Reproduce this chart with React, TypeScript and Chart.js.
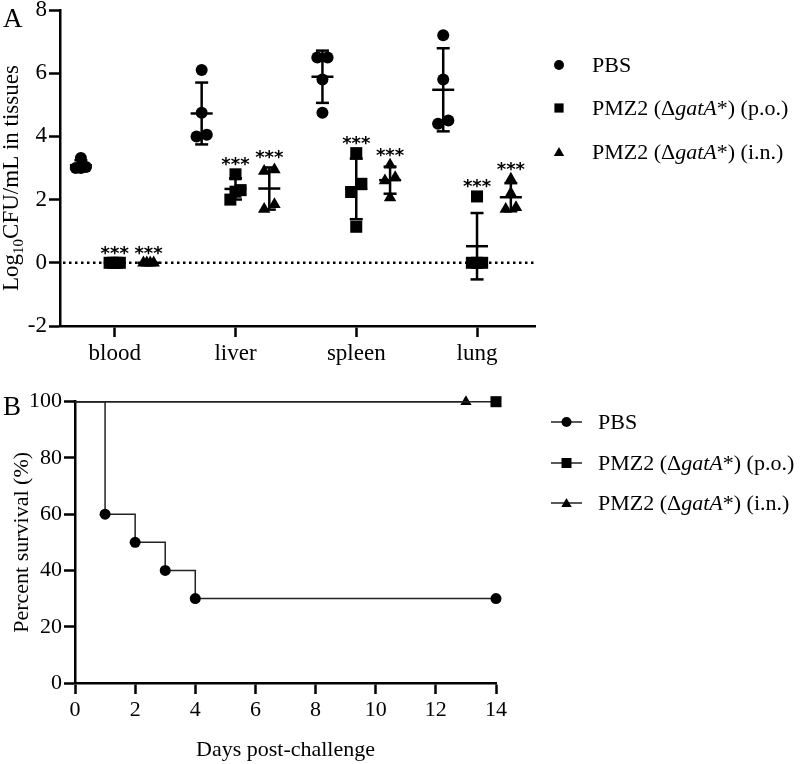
import React, { useEffect, useRef } from 'react';
import { Chart, registerables } from 'chart.js';
Chart.register(...registerables);

const SERIF = '"Liberation Serif", "Times New Roman", Times, serif';

// ---------- Panel A data ----------
const TISSUES = ['blood', 'liver', 'spleen', 'lung'];
const GROUP_LABELS = ['PBS', 'PMZ2 (Δ_gatA_*) (p.o.)', 'PMZ2 (Δ_gatA_*) (i.n.)'];
const PBS_LOG_CFU = [
  [3.32, 3.0, 3.0, 3.03],
  [6.1, 4.75, 4.0, 4.05],
  [6.5, 6.5, 5.8, 4.75],
  [7.2, 5.8, 4.4, 4.5],
];
const PO_LOG_CFU = [
  [0, 0, 0, 0],
  [2.8, 2.3, 2.25, 2.0],
  [3.47, 2.5, 2.24, 1.14],
  [2.1, 0, 0, 0],
];
const IN_LOG_CFU = [
  [0, 0, 0, 0],
  [2.95, 2.9, 1.7, 1.85],
  [3.1, 2.7, 2.6, 2.06],
  [2.65, 2.2, 1.7, 1.75],
];
const PBS_SIGNIF = ['', '', '', ''];
const PO_SIGNIF = ['***', '***', '***', '***'];
const IN_SIGNIF = ['***', '***', '***', '***'];
const A_Y_TICKS = [-2, 0, 2, 4, 6, 8];

// ---------- Panel B data ----------
const PBS_DAYS = [0, 1, 2, 3, 4, 14];
const PBS_SURVIVAL = [100, 60, 50, 40, 30, 30];
const PO_DAYS = [0, 14];
const PO_SURVIVAL = [100, 100];
const IN_DAYS = [0, 13];
const IN_SURVIVAL = [100, 100];
const B_X_TICKS = [0, 2, 4, 6, 8, 10, 12, 14];
const B_Y_TICKS = [0, 20, 40, 60, 80, 100];

// ---------- helpers ----------
const SERIES_A = [PBS_LOG_CFU, PO_LOG_CFU, IN_LOG_CFU];
const SIGNIF_A = [PBS_SIGNIF, PO_SIGNIF, IN_SIGNIF];
const GROUP_OFFSET = [-0.28, 0, 0.28];
const STYLE_NAMES = ['circle', 'rect', 'triangle'];
const SWARM_W = 0.085;
const SWARM_THR = 0.28;

const plain = (s: string) => s.replace(/_/g, '');

function swarmX(center: number, vals: number[]) {
  const idx = vals.map((_, i) => i).sort((a, b) => vals[a] - vals[b]);
  const xs = vals.map(() => center);
  let cl: number[] = [];
  const flush = () => {
    const n = cl.length;
    cl.forEach((id, k) => {
      xs[id] = n > 1 ? center - SWARM_W / 2 + (k * SWARM_W) / (n - 1) : center;
    });
    cl = [];
  };
  idx.forEach((id) => {
    if (cl.length && vals[id] - vals[cl[cl.length - 1]] >= SWARM_THR) flush();
    cl.push(id);
  });
  flush();
  return xs;
}

function meanSd(v: number[]) {
  const m = v.reduce((a, b) => a + b, 0) / v.length;
  const sd = Math.sqrt(v.reduce((a, b) => a + (b - m) * (b - m), 0) / (v.length - 1));
  return { m, sd };
}

function drawRich(ctx: any, label: string, x: number, y: number, size: number) {
  let cx = x;
  label.split('_').forEach((t, i) => {
    ctx.font = `${i % 2 === 1 ? 'italic ' : ''}${size}px ${SERIF}`;
    ctx.fillText(t, cx, y);
    cx += ctx.measureText(t).width;
  });
}

function drawMarker(ctx: any, style: string, x: number, y: number, r: number) {
  ctx.beginPath();
  if (style === 'circle') ctx.arc(x, y, r, 0, Math.PI * 2);
  else if (style === 'rect') ctx.rect(x - r, y - r, 2 * r, 2 * r);
  else {
    ctx.moveTo(x, y - r);
    ctx.lineTo(x + r * 0.866, y + r / 2);
    ctx.lineTo(x - r * 0.866, y + r / 2);
    ctx.closePath();
  }
  ctx.fill();
}

const axisCommon = (size: number, tickPad: number) => ({
  ticks: {
    color: '#000',
    font: { family: SERIF, size },
    padding: tickPad,
    maxRotation: 0,
    autoSkip: false,
    callback: (v: any) => String(v),
  },
  grid: { drawOnChartArea: false, drawTicks: true, tickLength: 11, tickColor: '#000', tickWidth: 2.5 },
  border: { color: '#000', width: 2.5 },
});

// ---------- Panel A ----------
const panelAPlugin = {
  id: 'panelA',
  beforeDatasetsDraw(chart: any) {
    const { ctx, chartArea, scales } = chart;
    const y0 = scales.y.getPixelForValue(0);
    ctx.save();
    ctx.strokeStyle = '#000';
    ctx.lineWidth = 2.5;
    ctx.setLineDash([2.5, 3.5]);
    ctx.beginPath();
    ctx.moveTo(chartArea.left + 3, y0);
    ctx.lineTo(chartArea.right, y0);
    ctx.stroke();
    ctx.restore();
  },
  afterDatasetsDraw(chart: any) {
    const { ctx, scales } = chart;
    const { x, y } = scales;
    ctx.save();
    ctx.strokeStyle = '#000';
    ctx.fillStyle = '#000';
    ctx.lineWidth = 2.5;
    const line = (x1: number, y1: number, x2: number, y2: number) => {
      ctx.beginPath();
      ctx.moveTo(x1, y1);
      ctx.lineTo(x2, y2);
      ctx.stroke();
    };
    SERIES_A.forEach((ser, g) =>
      ser.forEach((vals, t) => {
        const { m, sd } = meanSd(vals);
        const cx = x.getPixelForValue(t + GROUP_OFFSET[g]);
        const yT = y.getPixelForValue(m + sd);
        const yB = y.getPixelForValue(m - sd);
        const yM = y.getPixelForValue(m);
        line(cx, yT, cx, yB);
        line(cx - 6.5, yT, cx + 6.5, yT);
        line(cx - 6.5, yB, cx + 6.5, yB);
        line(cx - 11, yM, cx + 11, yM);
        const sig = SIGNIF_A[g][t];
        if (sig) {
          const top = Math.min(y.getPixelForValue(Math.max(...vals)), yT);
          ctx.font = `bold 18px "DejaVu Sans", sans-serif`;
          ctx.textAlign = 'center';
          ctx.textBaseline = 'alphabetic';
          ctx.fillText(sig, cx, top - 14 + 10);
        }
      })
    );
    ctx.restore();
  },
  afterDraw(chart: any) {
    const { ctx, chartArea } = chart;
    ctx.save();
    ctx.fillStyle = '#000';
    ctx.textBaseline = 'alphabetic';
    ctx.textAlign = 'left';
    // panel letter
    ctx.font = `27px ${SERIF}`;
    ctx.fillText('A', 3, 27);
    // y title with subscript
    const cy = (chartArea.top + chartArea.bottom) / 2 + 10;
    const parts = [
      { t: 'Log', s: 23, dy: 0 },
      { t: '10', s: 15, dy: 5 },
      { t: 'CFU/mL in tissues', s: 23, dy: 0 },
    ];
    let total = 0;
    parts.forEach((p) => {
      ctx.font = `${p.s}px ${SERIF}`;
      total += ctx.measureText(p.t).width;
    });
    ctx.translate(0, cy);
    ctx.rotate(-Math.PI / 2);
    let lx = -total / 2;
    parts.forEach((p) => {
      ctx.font = `${p.s}px ${SERIF}`;
      ctx.fillText(p.t, lx, 18 + p.dy);
      lx += ctx.measureText(p.t).width;
    });
    ctx.setTransform(1, 0, 0, 1, 0, 0);
    ctx.scale(chart.currentDevicePixelRatio, chart.currentDevicePixelRatio);
    // legend
    const ly = [65, 108, 152];
    const lr = [5, 4.6, 6];
    GROUP_LABELS.forEach((lab, g) => {
      drawMarker(ctx, STYLE_NAMES[g], 559, ly[g] + (g === 2 ? 1 : 0), lr[g]);
      ctx.textBaseline = 'middle';
      drawRich(ctx, lab, 592, ly[g] + 1, 22);
    });
    ctx.restore();
  },
};

function configA(): any {
  const radii = [6, 8.5, 7.2];
  const datasets = SERIES_A.map((ser, g) => ({
    label: plain(GROUP_LABELS[g]),
    data: ser.flatMap((vals, t) => {
      const xs = swarmX(t + GROUP_OFFSET[g], vals);
      return vals.map((v, i) => ({ x: xs[i], y: v }));
    }),
    pointStyle: STYLE_NAMES[g],
    pointRadius: radii[g],
    pointHoverRadius: radii[g],
    backgroundColor: '#000',
    borderColor: '#000',
    borderWidth: 0,
    showLine: false,
    clip: false,
  }));
  const cx = axisCommon(23, 3);
  const cy = axisCommon(23, 2);
  return {
    type: 'scatter',
    data: { datasets },
    options: {
      responsive: false,
      animation: false,
      events: [],
      layout: { padding: { left: 0, top: 10, right: 265, bottom: 0 } },
      plugins: { legend: { display: false }, tooltip: { enabled: false } },
      scales: {
        x: {
          type: 'linear',
          min: -0.453,
          max: 3.48,
          ...cx,
          ticks: { ...cx.ticks, callback: (v: any) => TISSUES[Math.round(v)] ?? '' },
          afterBuildTicks: (s: any) => {
            s.ticks = TISSUES.map((_, i) => ({ value: i }));
          },
          afterFit: (s: any) => {
            s.height = 54;
            s.paddingLeft = 0;
            s.paddingRight = 0;
          },
        },
        y: {
          type: 'linear',
          min: -2,
          max: 8,
          ...cy,
          afterBuildTicks: (s: any) => {
            s.ticks = A_Y_TICKS.map((v) => ({ value: v }));
          },
          afterFit: (s: any) => {
            s.width = 60;
            s.paddingTop = 0;
            s.paddingBottom = 0;
          },
        },
      },
    },
    plugins: [panelAPlugin],
  };
}

// ---------- Panel B ----------
const B_SERIES = [
  { days: PBS_DAYS, surv: PBS_SURVIVAL, style: 'circle', r: 5.5 },
  { days: PO_DAYS, surv: PO_SURVIVAL, style: 'rect', r: 7.8 },
  { days: IN_DAYS, surv: IN_SURVIVAL, style: 'triangle', r: 6.5 },
];

const panelBPlugin = {
  id: 'panelB',
  afterDraw(chart: any) {
    const { ctx, chartArea } = chart;
    ctx.save();
    ctx.fillStyle = '#000';
    ctx.strokeStyle = '#000';
    ctx.textBaseline = 'alphabetic';
    ctx.textAlign = 'left';
    ctx.font = `27px ${SERIF}`;
    ctx.fillText('B', 3, 35);
    // y title
    const cy = (chartArea.top + chartArea.bottom) / 2;
    ctx.font = `22px ${SERIF}`;
    ctx.textAlign = 'center';
    ctx.translate(0, cy);
    ctx.rotate(-Math.PI / 2);
    ctx.fillText('Percent survival (%)', 0, 28);
    ctx.setTransform(1, 0, 0, 1, 0, 0);
    ctx.scale(chart.currentDevicePixelRatio, chart.currentDevicePixelRatio);
    // x title
    ctx.textBaseline = 'middle';
    ctx.fillText('Days post-challenge', (chartArea.left + chartArea.right) / 2, 370);
    // legend
    ctx.textAlign = 'left';
    const ly = [42, 83, 123];
    const lr = [5, 5, 6];
    GROUP_LABELS.forEach((lab, g) => {
      ctx.strokeStyle = '#222';
      ctx.lineWidth = 1.5;
      ctx.beginPath();
      ctx.moveTo(551, ly[g]);
      ctx.lineTo(582, ly[g]);
      ctx.stroke();
      drawMarker(ctx, B_SERIES[g].style, 566.5, ly[g] + (g === 2 ? 1 : 0), lr[g]);
      ctx.textBaseline = 'middle';
      drawRich(ctx, lab, 598, ly[g] + 1, 22);
    });
    ctx.restore();
  },
};

function configB(): any {
  const datasets = B_SERIES.map((s, g) => ({
    label: plain(GROUP_LABELS[g]),
    data: s.days.map((d, i) => ({ x: d, y: s.surv[i] })),
    showLine: true,
    stepped: true,
    borderColor: '#222',
    borderWidth: 1.5,
    backgroundColor: '#000',
    pointStyle: s.style,
    pointRadius: s.days.map((d) => (d === 0 ? 0 : s.r)),
    pointHoverRadius: s.days.map((d) => (d === 0 ? 0 : s.r)),
    pointBorderWidth: 0,
    pointBackgroundColor: '#000',
    clip: false,
  }));
  const cx = axisCommon(22, 3);
  const cy = axisCommon(22, 2);
  return {
    type: 'scatter',
    data: { datasets },
    options: {
      responsive: false,
      animation: false,
      events: [],
      layout: { padding: { left: 0, top: 21.7, right: 304, bottom: 0 } },
      plugins: { legend: { display: false }, tooltip: { enabled: false } },
      scales: {
        x: {
          type: 'linear',
          min: 0,
          max: 14,
          ...cx,
          afterBuildTicks: (s: any) => {
            s.ticks = B_X_TICKS.map((v) => ({ value: v }));
          },
          afterFit: (s: any) => {
            s.height = 81;
            s.paddingLeft = 0;
            s.paddingRight = 0;
          },
        },
        y: {
          type: 'linear',
          min: 0,
          max: 100,
          ...cy,
          afterBuildTicks: (s: any) => {
            s.ticks = B_Y_TICKS.map((v) => ({ value: v }));
          },
          afterFit: (s: any) => {
            s.width = 75;
            s.paddingTop = 0;
            s.paddingBottom = 0;
          },
        },
      },
    },
    plugins: [panelBPlugin],
  };
}

export default function App() {
  const refA = useRef<HTMLCanvasElement | null>(null);
  const refB = useRef<HTMLCanvasElement | null>(null);
  useEffect(() => {
    const a = new Chart(refA.current as any, configA());
    const b = new Chart(refB.current as any, configB());
    return () => {
      a.destroy();
      b.destroy();
    };
  }, []);
  return (
    <div style={{ position: 'fixed', left: 0, top: 0, width: 800, height: 764, background: '#fff' }}>
      <canvas
        ref={refA}
        width={800}
        height={380}
        style={{ position: 'absolute', left: 0, top: 0, width: 800, height: 380 }}
      />
      <canvas
        ref={refB}
        width={800}
        height={384}
        style={{ position: 'absolute', left: 0, top: 380, width: 800, height: 384 }}
      />
    </div>
  );
}
